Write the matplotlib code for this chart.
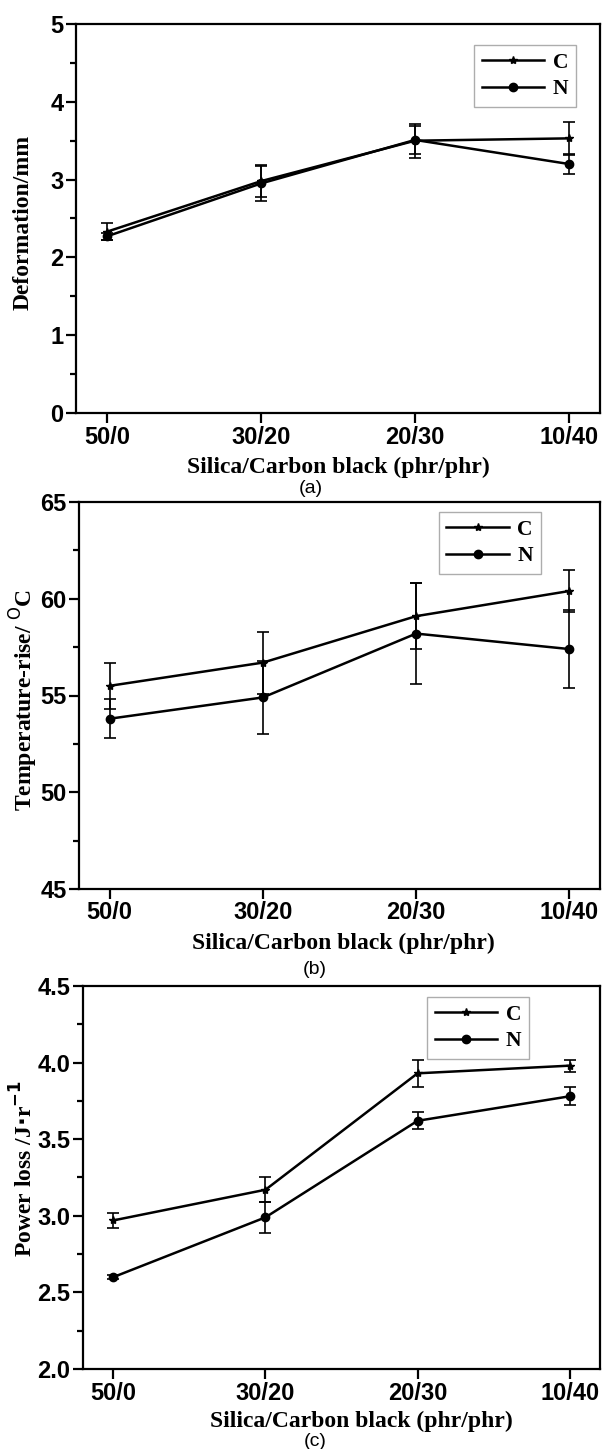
import matplotlib
matplotlib.use("Agg")
import matplotlib.pyplot as plt
from matplotlib.ticker import MultipleLocator
from matplotlib.lines import Line2D

categories = ["50/0", "30/20", "20/30", "10/40"]

# Panel (a) Deformation/mm
def_C = [2.33, 2.98, 3.50, 3.53]
def_C_err = [0.11, 0.21, 0.22, 0.21]
def_N = [2.27, 2.95, 3.51, 3.20]
def_N_err = [0.05, 0.23, 0.18, 0.13]

# Panel (b) Temperature rise
tmp_C = [55.5, 56.7, 59.1, 60.4]
tmp_C_err = [1.2, 1.6, 1.7, 1.1]
tmp_N = [53.8, 54.9, 58.2, 57.4]
tmp_N_err = [1.0, 1.9, 2.6, 2.0]

# Panel (c) Power loss
pow_C = [2.97, 3.17, 3.93, 3.98]
pow_C_err = [0.05, 0.08, 0.09, 0.04]
pow_N = [2.60, 2.99, 3.62, 3.78]
pow_N_err = [0.012, 0.10, 0.055, 0.06]

series_labels = ["C", "N"]

W, H = 602, 1449
fig = plt.figure(figsize=(W / 100, H / 100), dpi=100)

def box(l, r, t, b):
    return [l / W, 1 - b / H, (r - l) / W, (b - t) / H]

serif = ["Liberation Serif", "DejaVu Serif"]
sans = ["Liberation Sans", "DejaVu Sans"]

panels = [
    dict(rect=box(76, 600, 24, 413), C=def_C, Ce=def_C_err, N=def_N, Ne=def_N_err,
         ylim=(0, 5), major=1, minor=0.5, fmt="{:.0f}", ylabel="Deformation/mm",
         ylab_xy=(23, 222), xlab_xy=(338, 467), tag="(a)", tag_xy=(311, 488),
         leg=(0.954, 0.946)),
    dict(rect=box(79, 600, 502, 889), C=tmp_C, Ce=tmp_C_err, N=tmp_N, Ne=tmp_N_err,
         ylim=(45, 65), major=5, minor=2.5, fmt="{:.0f}",
         ylabel="Temperature-rise/ $\\mathbf{^{\\mathsf{O}}}$C",
         ylab_xy=(24, 700), xlab_xy=(343, 943), tag="(b)", tag_xy=(315, 970),
         leg=(0.886, 0.974)),
    dict(rect=box(83, 600, 986, 1369), C=pow_C, Ce=pow_C_err, N=pow_N, Ne=pow_N_err,
         ylim=(2.0, 4.5), major=0.5, minor=0.25, fmt="{:.1f}",
         ylabel="Power loss /J$\\mathbf{\\cdot}$r$^{\\mathbf{-1}}$",
         ylab_xy=(24, 1168), xlab_xy=(361, 1421), tag="(c)", tag_xy=(315, 1441),
         leg=(0.863, 0.971)),
]

xs = list(range(len(categories)))

for p in panels:
    ax = fig.add_axes(p["rect"])
    ax.errorbar(xs, p["C"], yerr=p["Ce"], color="black", lw=1.8, marker="*",
                ms=6, capsize=4, elinewidth=1.2, capthick=1.2)
    ax.errorbar(xs, p["N"], yerr=p["Ne"], color="black", lw=1.8, marker="o",
                ms=6, capsize=4, elinewidth=1.2, capthick=1.2)
    ax.set_xlim(-0.2, 3.2)
    ax.set_ylim(*p["ylim"])
    ax.set_xticks(xs)
    ax.set_xticklabels(categories)
    ax.yaxis.set_major_locator(MultipleLocator(p["major"]))
    ax.yaxis.set_minor_locator(MultipleLocator(p["minor"]))
    ticks = [t for t in ax.get_yticks() if p["ylim"][0] - 1e-9 <= t <= p["ylim"][1] + 1e-9]
    ax.set_yticks(ticks)
    ax.set_yticklabels([p["fmt"].format(t) for t in ticks])
    ax.tick_params(which="major", direction="out", length=7, width=1.6, pad=2)
    ax.tick_params(which="minor", direction="out", length=4, width=1.6)
    ax.tick_params(axis="x", which="minor", bottom=False)
    for lbl in ax.get_xticklabels() + ax.get_yticklabels():
        lbl.set_fontfamily(sans)
        lbl.set_fontweight("bold")
        lbl.set_fontsize(17)
    for s in ax.spines.values():
        s.set_linewidth(1.6)
    handles = [Line2D([], [], color="black", lw=1.8, marker="*", ms=6),
               Line2D([], [], color="black", lw=1.8, marker="o", ms=6)]
    leg = ax.legend(handles=handles, labels=series_labels, loc="upper right",
                    bbox_to_anchor=p["leg"], borderaxespad=0, frameon=True,
                    fancybox=False, edgecolor="#999999", handlelength=2.9,
                    handletextpad=0.4, labelspacing=0.3, borderpad=0.35,
                    prop=dict(family=serif, weight="bold", size=15.5))
    leg.get_frame().set_linewidth(1.0)
    fig.text(p["ylab_xy"][0] / W, 1 - p["ylab_xy"][1] / H, p["ylabel"], rotation=90,
             ha="center", va="center", family=serif, weight="bold", fontsize=17)
    fig.text(p["xlab_xy"][0] / W, 1 - p["xlab_xy"][1] / H, "Silica/Carbon black (phr/phr)",
             ha="center", va="center", family=serif, weight="bold", fontsize=17)
    fig.text(p["tag_xy"][0] / W, 1 - p["tag_xy"][1] / H, p["tag"],
             ha="center", va="center", family=sans, fontsize=14)

fig.savefig("out.png", dpi=100)
